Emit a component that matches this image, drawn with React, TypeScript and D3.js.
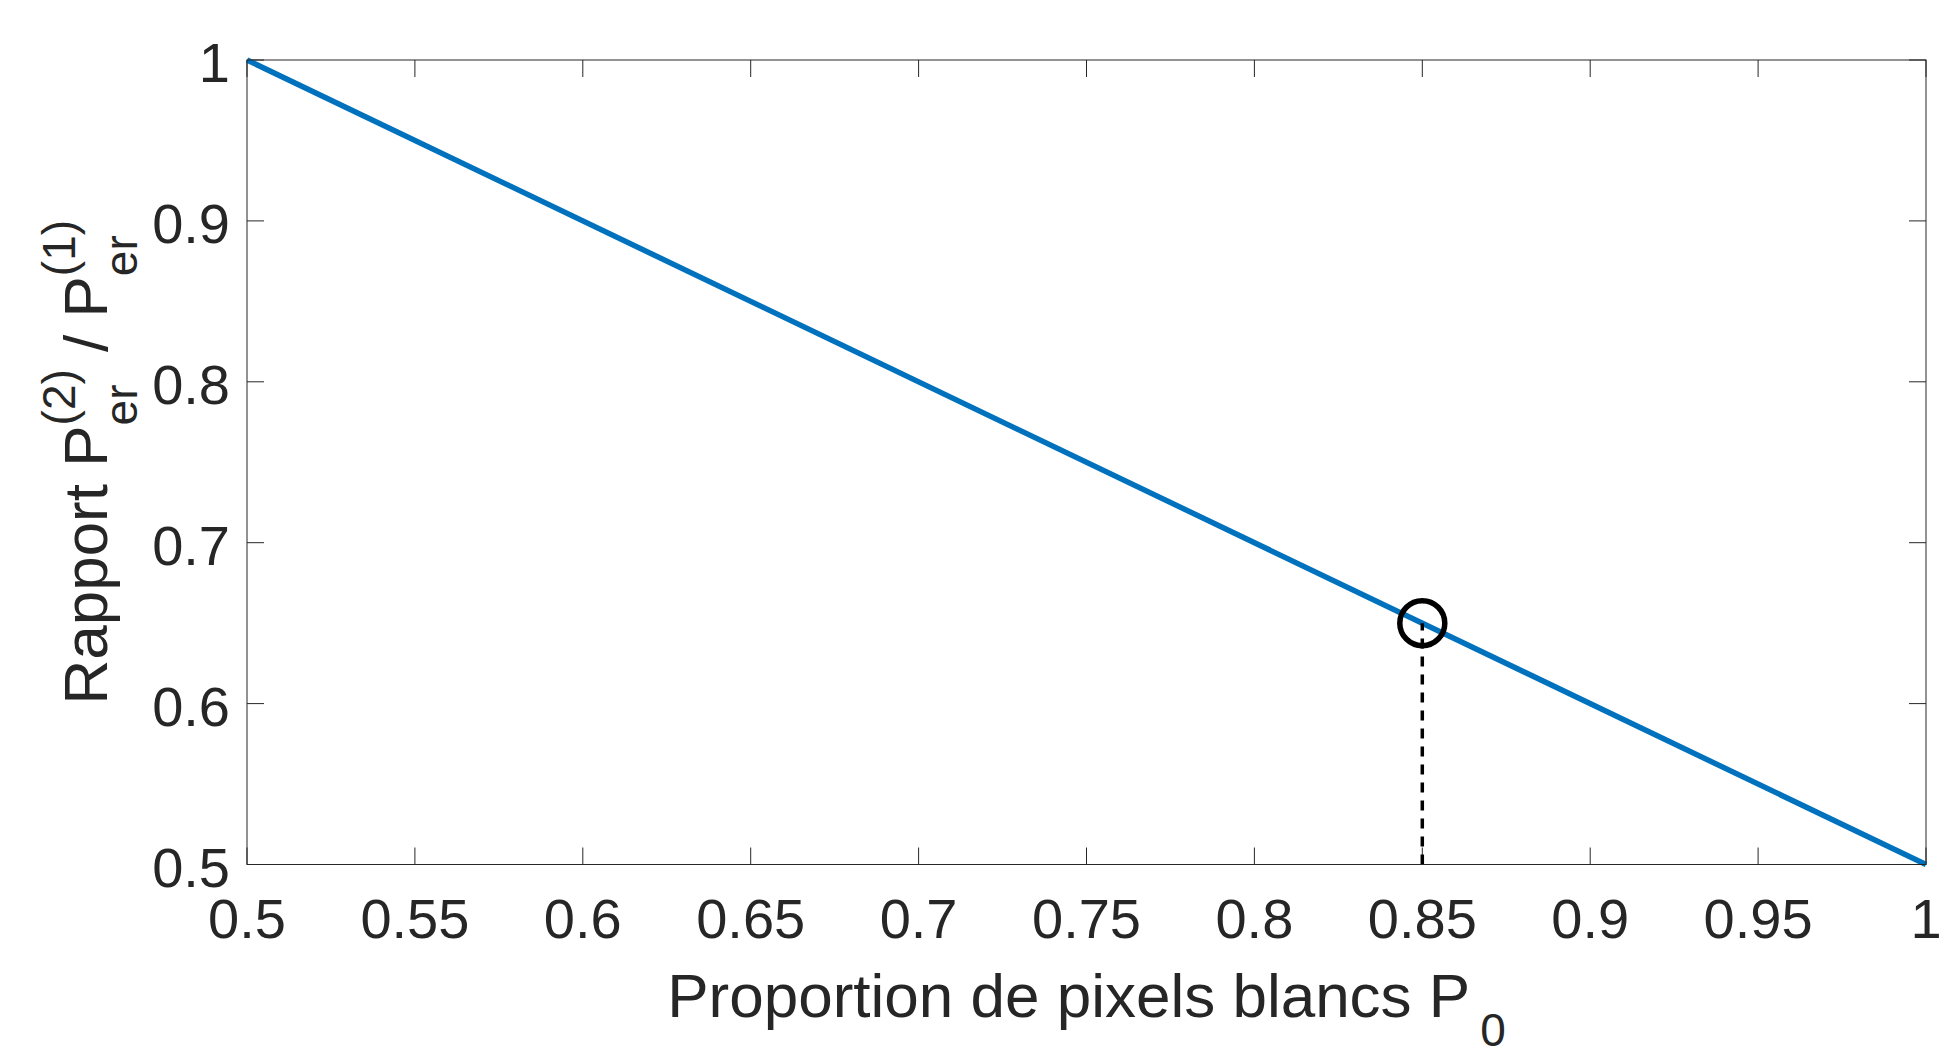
import * as d3 from "d3";
import { useEffect, useRef } from "react";

// courbe : rapport des probabilités d'erreur en fonction de P0
const proportion = [0.5, 1];
const ratio = [1, 0.5];
// point marqué
const pointP0 = [0.85];
const pointRatio = [0.65];

const xTickValues = [0.5, 0.55, 0.6, 0.65, 0.7, 0.75, 0.8, 0.85, 0.9, 0.95, 1];
const xTickLabels = ["0.5", "0.55", "0.6", "0.65", "0.7", "0.75", "0.8", "0.85", "0.9", "0.95", "1"];
const yTickValues = [0.5, 0.6, 0.7, 0.8, 0.9, 1];
const yTickLabels = ["0.5", "0.6", "0.7", "0.8", "0.9", "1"];

const W = 1941;
const H = 1046;
const left = 247, right = 1926, top = 60, bottom = 864.5;
const ink = "#262626";

export default function App() {
  const svgRef = useRef<SVGSVGElement>(null);

  useEffect(() => {
    const svg = d3.select(svgRef.current);
    svg.selectAll("*").remove();

    const x = d3.scaleLinear().domain([0.5, 1]).range([left, right]);
    const y = d3.scaleLinear().domain([0.5, 1]).range([bottom, top]);
    const tickLen = 17;

    // ticks (inside, on all four sides)
    const ticks = svg.append("g").attr("stroke", ink).attr("stroke-width", 1);
    xTickValues.forEach((v) => {
      ticks.append("line").attr("x1", x(v)).attr("x2", x(v)).attr("y1", bottom).attr("y2", bottom - tickLen);
      ticks.append("line").attr("x1", x(v)).attr("x2", x(v)).attr("y1", top).attr("y2", top + tickLen);
    });
    yTickValues.forEach((v) => {
      ticks.append("line").attr("x1", left).attr("x2", left + tickLen).attr("y1", y(v)).attr("y2", y(v));
      ticks.append("line").attr("x1", right).attr("x2", right - tickLen).attr("y1", y(v)).attr("y2", y(v));
    });

    // tick labels
    svg.append("g")
      .selectAll("text")
      .data(xTickValues)
      .join("text")
        .attr("x", (d) => x(d))
        .attr("y", bottom + 73.5)
        .attr("text-anchor", "middle")
        .attr("font-size", 56)
        .text((d, i) => xTickLabels[i]);

    svg.append("g")
      .selectAll("text")
      .data(yTickValues)
      .join("text")
        .attr("x", left - 17)
        .attr("y", (d) => y(d) + 22)
        .attr("text-anchor", "end")
        .attr("font-size", 56)
        .text((d, i) => yTickLabels[i]);

    // main curve
    const line = d3.line<number>()
      .x((d) => x(d))
      .y((d, i) => y(ratio[i]));
    svg.append("path")
      .datum(proportion)
      .attr("d", line)
      .attr("fill", "none")
      .attr("stroke", "#0072BD")
      .attr("stroke-width", 5.5);

    // dashed drop line + circle marker
    pointP0.forEach((p, i) => {
      svg.append("line")
        .attr("x1", x(p)).attr("x2", x(p))
        .attr("y1", y(0.5)).attr("y2", y(pointRatio[i]))
        .attr("stroke", "#000")
        .attr("stroke-width", 3.5)
        .attr("stroke-dasharray", "10,8");
      svg.append("circle")
        .attr("cx", x(p)).attr("cy", y(pointRatio[i]))
        .attr("r", 22.5)
        .attr("fill", "none")
        .attr("stroke", "#000")
        .attr("stroke-width", 5.5);
    });

    // axes box
    svg.append("rect")
      .attr("x", left).attr("y", top)
      .attr("width", right - left).attr("height", bottom - top)
      .attr("fill", "none")
      .attr("stroke", ink)
      .attr("stroke-width", 1);

    const addRun = (g: any, str: string, cx: number, dy: number, size: number) => {
      const t = g.append("text")
        .attr("x", cx).attr("y", dy)
        .attr("font-size", size)
        .style("white-space", "pre")
        .text(str);
      return (t.node() as SVGTextElement).getComputedTextLength();
    };

    // x label
    const xg = svg.append("g").attr("transform", `translate(${(left + right) / 2}, 1017)`);
    const xin = xg.append("g");
    let cur = 0;
    cur += addRun(xin, "Proportion de pixels blancs P", cur, 0, 62);
    cur += 10;
    cur += addRun(xin, "0", cur, 29, 46);
    xin.attr("transform", `translate(${-cur / 2}, 0)`);

    // y label (rotated)
    const yg = svg.append("g").attr("transform", `translate(107, ${(top + bottom) / 2}) rotate(-90)`);
    const yin = yg.append("g");
    let c = 0;
    c += addRun(yin, "Rapport P", c, 0, 62);
    let a = addRun(yin, "(2)", c, -32, 46);
    let b = addRun(yin, "er", c, 30, 46);
    c += Math.max(a, b);
    c += addRun(yin, " / P", c, 0, 62);
    a = addRun(yin, "(1)", c, -32, 46);
    b = addRun(yin, "er", c, 30, 46);
    c += Math.max(a, b);
    yin.attr("transform", `translate(${-c / 2}, 0)`);

    return () => { svg.selectAll("*").remove(); };
  }, []);

  return (
    <svg
      ref={svgRef}
      width={W}
      height={H}
      style={{ position: "absolute", left: 0, top: 0, background: "#fff" }}
      fontFamily="'Liberation Sans', Arial, Helvetica, sans-serif"
      fill={ink}
    />
  );
}
